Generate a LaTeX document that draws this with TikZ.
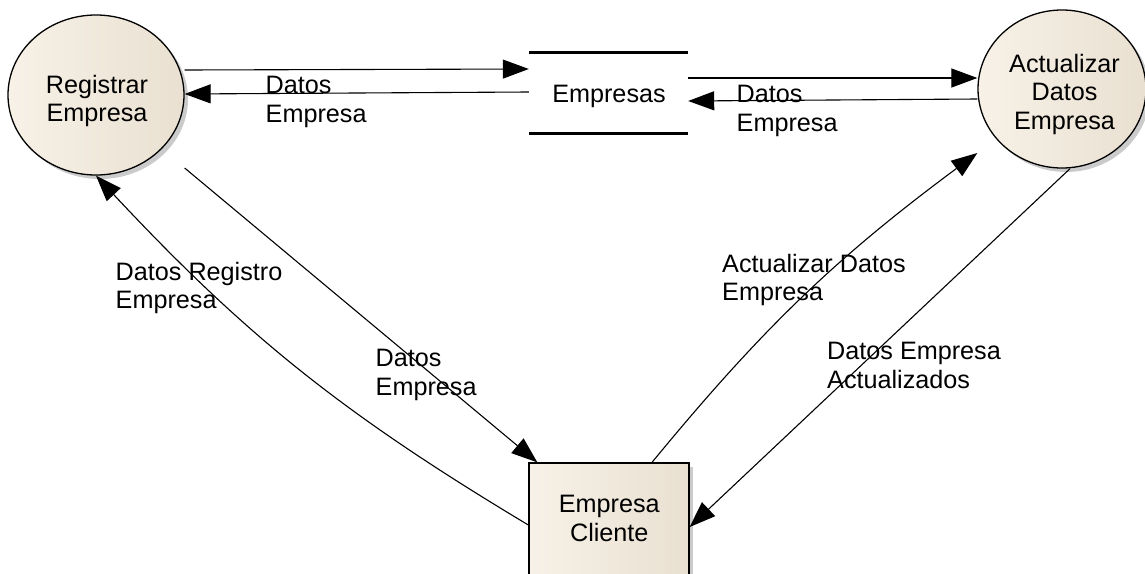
\documentclass[tikz,border=0pt]{standalone}
\usepackage{fontspec}
\setmainfont{Liberation Sans}
\usetikzlibrary{shapes.geometric,shadows,arrows.meta}
\definecolor{beigeL}{RGB}{247,241,231}
\definecolor{beigeR}{RGB}{233,224,209}
\tikzset{
  proc/.style={ellipse, draw, line width=1.3pt, left color=beigeL, right color=beigeR, inner sep=0,
    drop shadow={shadow xshift=4pt, shadow yshift=-4pt, fill=black!45, opacity=.45}},
  ext/.style={proc, rectangle},
  store/.style={rectangle, inner sep=0, minimum width=159, minimum height=80},
  storeline/.style={line width=3pt},
  flow/.style={line width=1.1pt, -{Triangle[length=26pt,width=19pt]}},
  txt/.style={inner sep=0, anchor=north, align=center, font=\fontsize{25.2}{28.5}\selectfont},
  lbl/.style={txt, anchor=north west, align=left}
}
\begin{document}
\begin{tikzpicture}[x=1pt, y=-1pt]
    \useasboundingbox (0,0) rectangle (1145,573);

    % Processes
    \node[proc, minimum width=176, minimum height=160] (reg) at (96,95) {};
    \node[txt] (regtxt) at (97,75) {Registrar\\Empresa};
    \node[proc, minimum width=168, minimum height=158] (act) at (1062,89) {};
    \node[txt] (acttxt) at (1064.5,54) {Actualizar\\Datos\\Empresa};

    % Data store
    \node[store] (emp) at (608.5,93) {};
    \draw[storeline] (emp.north west) -- (emp.north east);
    \draw[storeline] (emp.south west) -- (emp.south east);
    \node[txt] (emptxt) at (609,85) {Empresas};

    % External entity
    \node[ext, minimum width=160, minimum height=160] (cli) at (609,543) {};
    \node[txt] (clitxt) at (609.3,495) {Empresa\\Cliente};

    % Flows to and from the store
    \draw[flow] ([yshift=25pt]reg.east) -- ([yshift=24pt]emp.west);
    \draw[flow] ([yshift=1pt]emp.west) -- ([yshift=1pt]reg.east);
    \node[lbl] (l1) at (265.5,76) {Datos\\Empresa};
    \draw[flow] ([yshift=15pt]emp.east) -- ([yshift=11pt]act.west);
    \draw[flow] ([yshift=-10pt]act.west) -- ([yshift=-8pt]emp.east);
    \node[lbl] (l2) at (736.5,85) {Datos\\Empresa};

    % Flows with the client
    \draw[flow] ([yshift=-73pt]reg.east) -- ([xshift=9pt]cli.north west);
    \node[lbl] (l3) at (375.5,349) {Datos\\Empresa};
    \draw[flow] ([yshift=18pt]cli.west) to[bend left=8] (reg.south);
    \node[lbl] (l4) at (115.5,262) {Datos Registro\\Empresa};
    \draw[flow] ([xshift=43pt]cli.north) to[bend left=7] ([yshift=-64pt]act.west);
    \node[lbl] (l5) at (722,254) {Actualizar Datos\\Empresa};
    \draw[flow] ([xshift=8pt]act.south) -- ([yshift=16pt]cli.east);
    \node[lbl] (l6) at (827,342) {Datos Empresa\\Actualizados};
\end{tikzpicture}
\end{document}
